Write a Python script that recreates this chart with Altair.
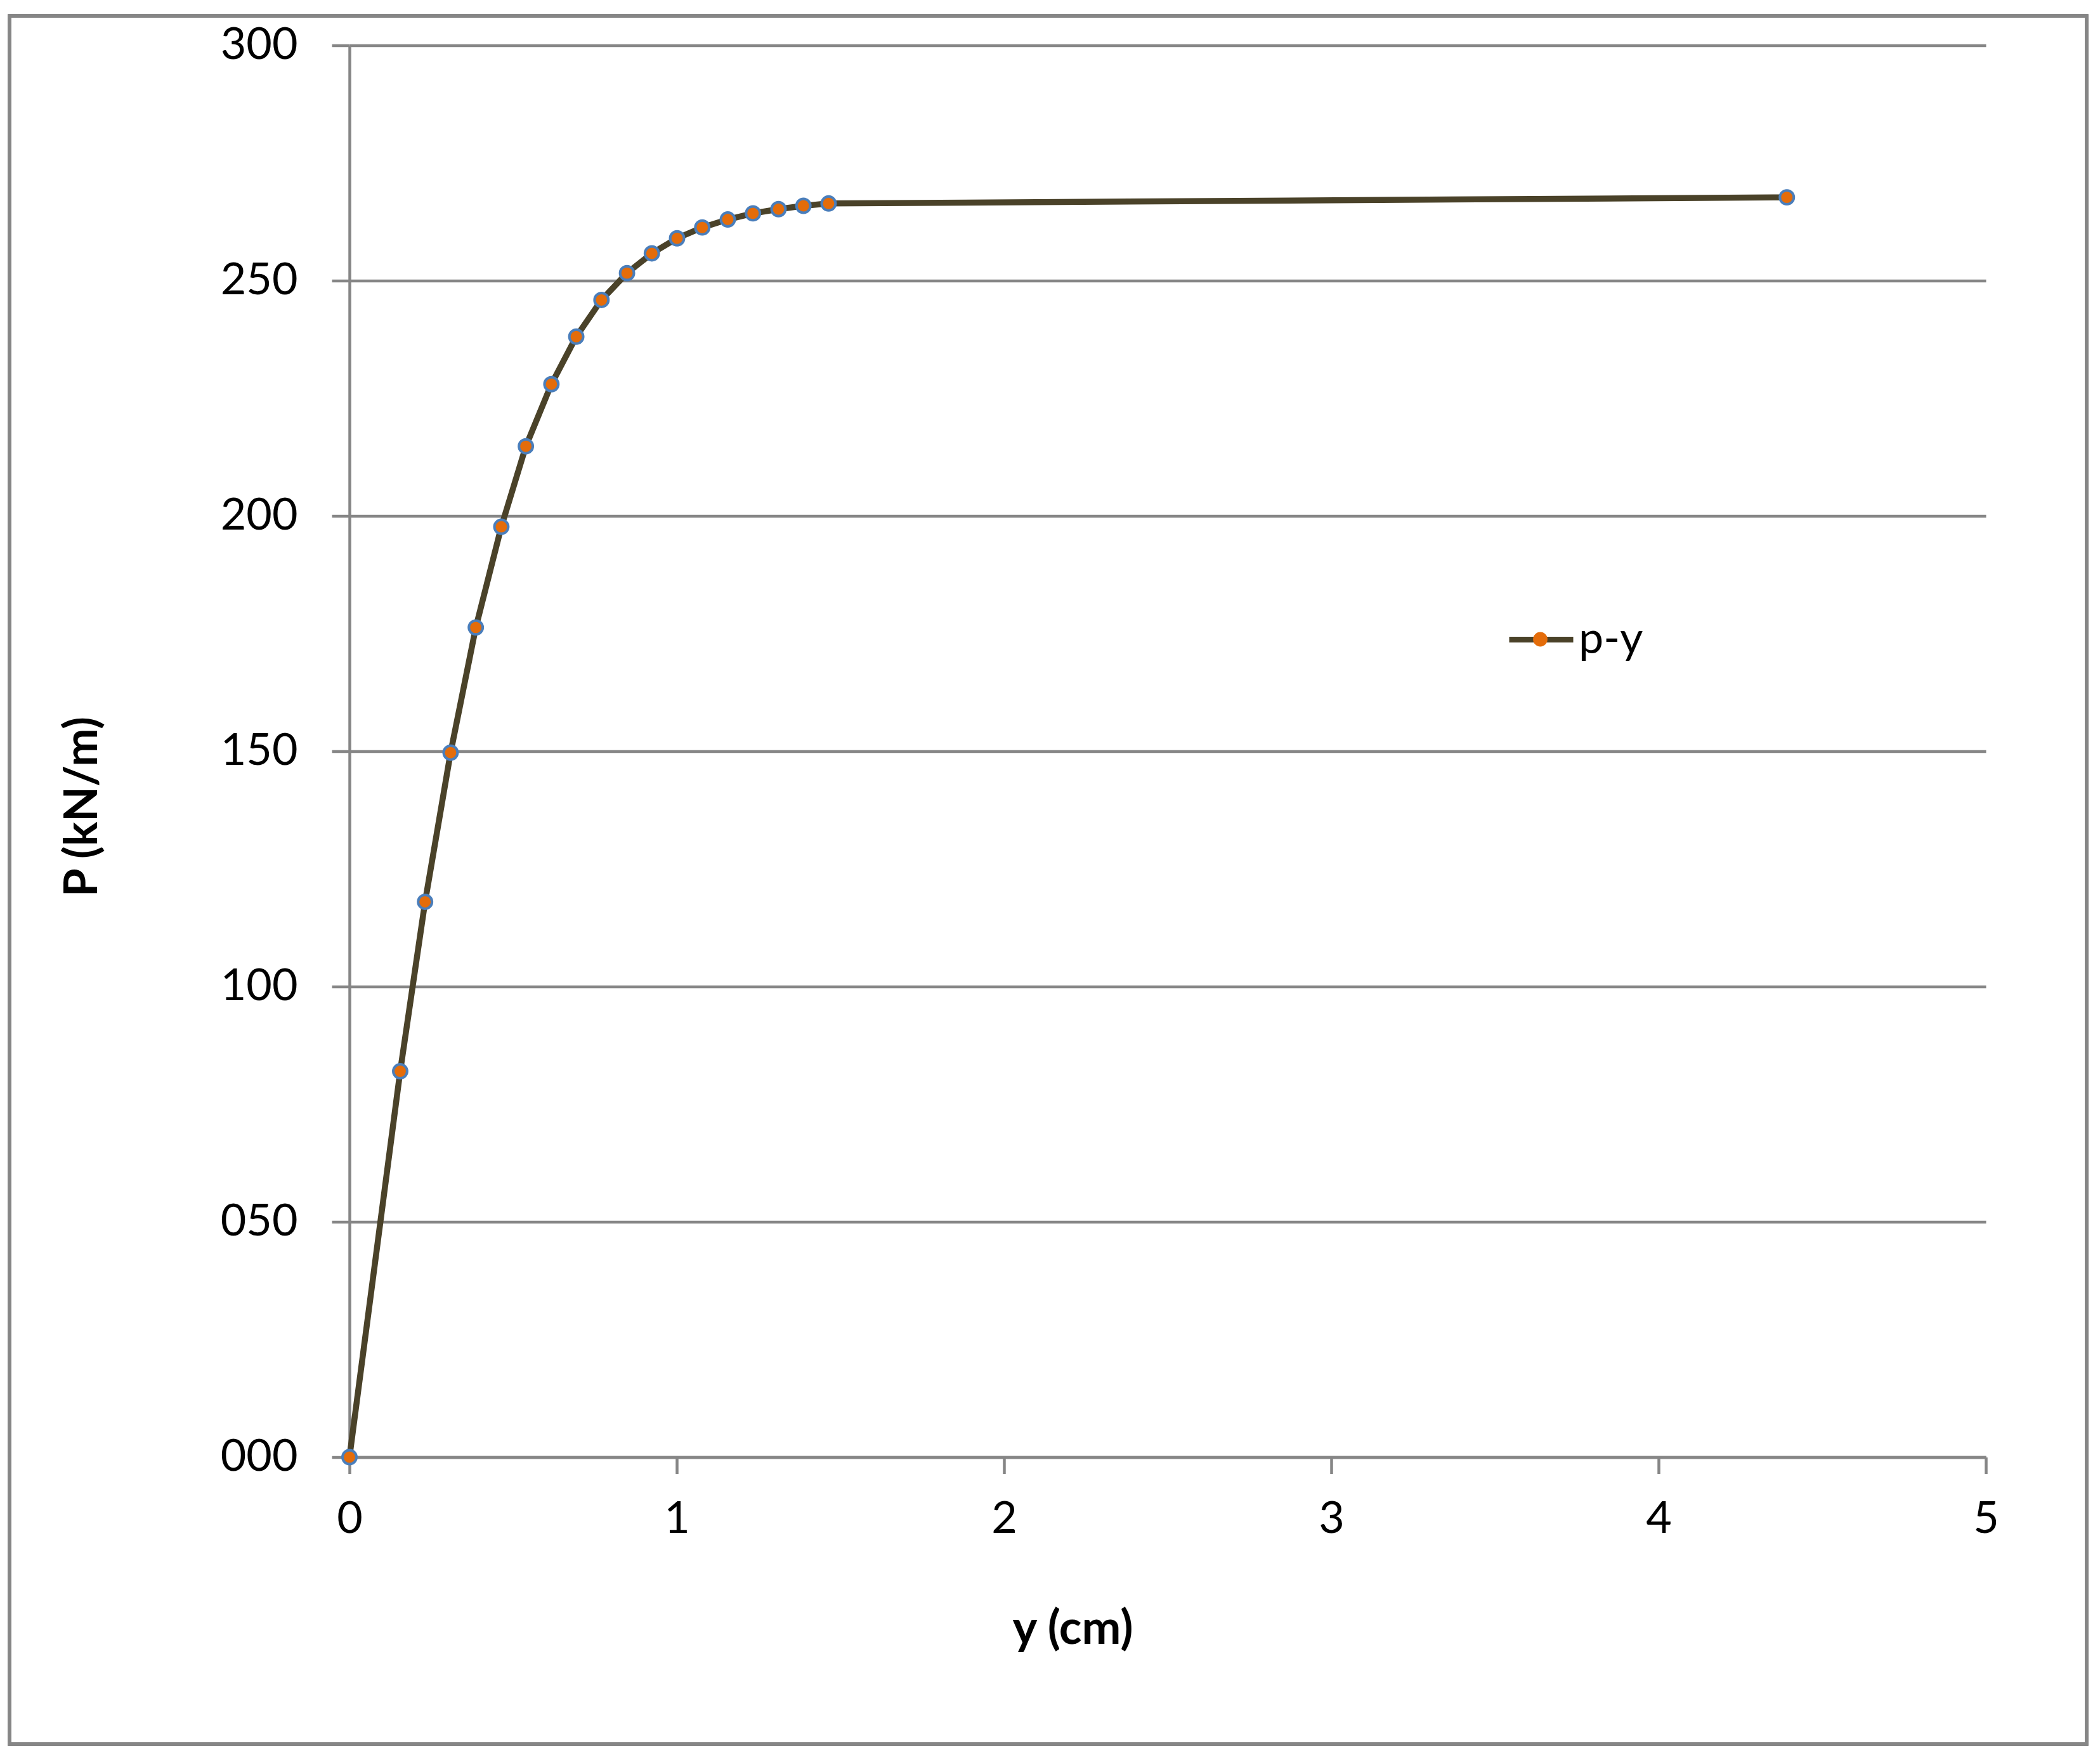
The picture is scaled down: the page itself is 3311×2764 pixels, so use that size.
import altair as alt
import pandas as pd

# data
y_cm = [0, 0.155, 0.231, 0.309, 0.386, 0.464, 0.539, 0.617, 0.693, 0.770,
        0.848, 0.924, 1.001, 1.078, 1.156, 1.233, 1.311, 1.387, 1.464, 4.392]
p_kn = [0, 82.0, 118.0, 149.7, 176.3, 197.7, 214.8, 228.0, 238.1, 245.9,
        251.6, 255.8, 259.0, 261.3, 263.0, 264.3, 265.2, 265.9, 266.4, 267.7]
series_name = "p-y"
x_ticks = [0, 1, 2, 3, 4, 5]
y_ticks = [0, 50, 100, 150, 200, 250, 300]

df = pd.DataFrame({"y": y_cm, "p": p_kn})
df["s1"] = series_name
df["s2"] = series_name

GRAY = "#868686"
LINE = "#4A4229"
ORANGE = "#E46C0A"
BLUE = "#4A7EBB"
FONT = "Lato"

W, H = 2580, 2226

xenc = alt.X("y:Q", scale=alt.Scale(domain=[0, 5], nice=False),
             axis=alt.Axis(values=x_ticks, format="d", title="y (cm)", grid=False,
                           labelFlush=False,
                           domainColor=GRAY, domainWidth=4.5, tickColor=GRAY,
                           tickWidth=4.5, tickSize=26, labelFont=FONT,
                           labelFontSize=70, labelColor="black", labelPadding=38,
                           titleFont=FONT, titleFontSize=74, titleFontWeight="bold",
                           titleColor="black", titleX=1140, titleY=272,
                           titleBaseline="middle", titleAnchor="start", titleAlign="center"))
yenc = alt.Y("p:Q", scale=alt.Scale(domain=[0, 300], nice=False),
             axis=alt.Axis(values=y_ticks, format="03d", title="P (kN/m)", grid=True,
                           labelFlush=False,
                           gridColor=GRAY, gridWidth=4.5, domainColor=GRAY,
                           domainWidth=4.5, tickColor=GRAY, tickWidth=4.5,
                           tickSize=28, labelFont=FONT, labelFontSize=70,
                           labelColor="black", labelPadding=54, titleFont=FONT,
                           titleFontSize=72, titleFontWeight="bold", titleColor="black",
                           titleX=-421, titleY=1200, titleAngle=270,
                           titleBaseline="middle", titleAlign="center", titleAnchor="start"))

frame = alt.Chart(df).mark_rect(filled=False, stroke=GRAY, strokeWidth=4.5).encode(
    x=alt.value(-536), x2=alt.value(2739), y=alt.value(-46.5), y2=alt.value(2678.5)
)

line = alt.Chart(df).mark_line(strokeWidth=9.5).encode(
    x=xenc, y=yenc,
    color=alt.Color("s1:N", scale=alt.Scale(range=[LINE]),
                    legend=alt.Legend(title=None, orient="none", legendX=1824,
                                      legendY=882, symbolType="stroke",
                                      symbolSize=10201, symbolStrokeWidth=9,
                                      labelFont=FONT, labelFontSize=70,
                                      labelColor="black", labelOffset=4,
                                      padding=0)),
)

points = alt.Chart(df).mark_point(filled=True, fill=ORANGE, stroke=BLUE,
                                  strokeWidth=4, size=480, opacity=1).encode(
    x=alt.X("y:Q"), y=alt.Y("p:Q"),
    shape=alt.Shape("s2:N", scale=alt.Scale(range=["circle"]),
                    legend=alt.Legend(title=None, orient="none", legendX=1864,
                                      legendY=923, symbolType="circle",
                                      symbolSize=520, symbolFillColor=ORANGE,
                                      symbolStrokeColor=BLUE, symbolStrokeWidth=4,
                                      symbolOpacity=1,
                                      labelExpr="''", labelFontSize=1, padding=0)),
)

chart = alt.layer(frame, line, points).properties(
    width=W, height=H,
    autosize=alt.AutoSizeParams(type="none"),
    padding={"left": 543, "top": 63.5, "right": 172, "bottom": 458.5},
    background="white",
).configure_view(stroke=None)

chart.save("out.html", embed_options={"renderer": "svg", "actions": False})
